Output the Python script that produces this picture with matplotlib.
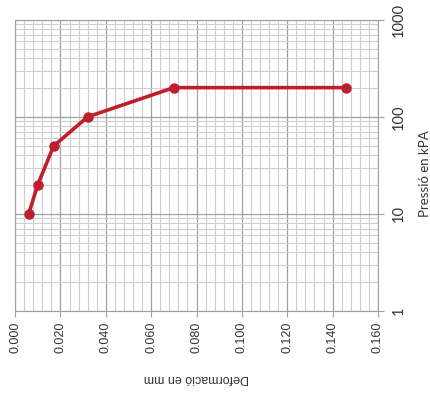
import numpy as np
import matplotlib.pyplot as plt
from matplotlib.ticker import MultipleLocator, LogLocator, FixedLocator

# deformation (mm) under each pressure step (kPa)
deformacio = [0.006, 0.010, 0.017, 0.032, 0.070, 0.146]
pressio = [10, 20, 50, 100, 200, 200]

x_ticks = [0.000, 0.020, 0.040, 0.060, 0.080, 0.100, 0.120, 0.140, 0.160]
y_ticks = [1, 10, 100, 1000]

plt.rcParams['font.family'] = ['Liberation Sans', 'DejaVu Sans']

fig = plt.figure(figsize=(4.31, 3.96), dpi=100)
ax = fig.add_axes([0.035, 0.215, 0.842, 0.735])

ax.set_yscale('log')
ax.set_xlim(0, 0.160)
ax.set_ylim(1, 1000)

ax.xaxis.set_major_locator(FixedLocator(x_ticks))
ax.xaxis.set_minor_locator(MultipleLocator(0.004))
ax.yaxis.set_major_locator(FixedLocator(y_ticks))
ax.yaxis.set_minor_locator(LogLocator(base=10, subs=np.arange(2, 10)))

ax.grid(which='major', color='#a0a0a0', linewidth=0.9)
ax.grid(which='minor', color='#cfcfcf', linewidth=0.8)
ax.set_axisbelow(True)

ax.plot(deformacio, pressio, color='#be1e2d', linewidth=2.6,
        marker='o', markersize=6.5, zorder=3, clip_on=False)

for s in ax.spines.values():
    s.set_color('#a0a0a0')

ax.yaxis.tick_right()
ax.set_xticklabels([f"{v:.3f}" for v in x_ticks], rotation=90, fontsize=9, color='#333333')
ax.set_yticklabels([str(v) for v in y_ticks], rotation=90, va='center',
                   fontsize=10.5, color='#333333', family=['Lato', 'DejaVu Sans'])
ax.tick_params(which='major', length=4, color='#a0a0a0')
ax.tick_params(axis='y', which='major', pad=6)
ax.tick_params(which='minor', length=0)

ax.set_xlabel("Deformació en mm", rotation=180, fontsize=9, color='#333333', labelpad=14)
# axis title on the right, placed by hand so it sits past the tick labels
ax.text(1.13, 0.47, "Pressió en kPA", transform=ax.transAxes, rotation=90,
        ha='center', va='center', fontsize=9.5, color='#333333',
        family=['Lato', 'DejaVu Sans'])

fig.savefig("out.png", dpi=100)
